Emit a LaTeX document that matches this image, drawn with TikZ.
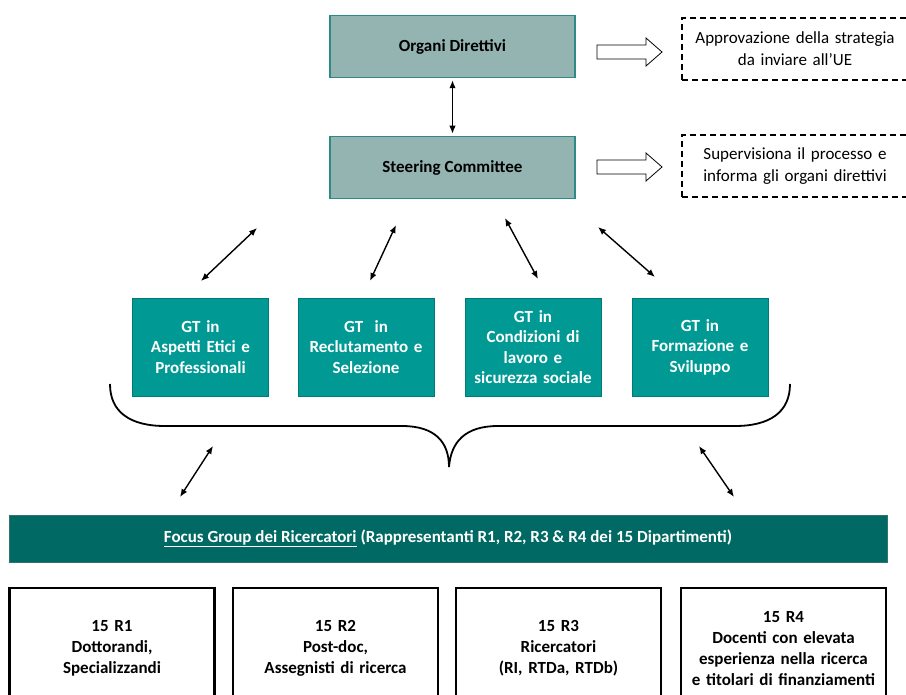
\documentclass[tikz,border=0pt]{standalone}
\usepackage{fontspec}
\setmainfont{Carlito}
\usepackage{xcolor}
\usetikzlibrary{positioning, arrows.meta}

\definecolor{topfill}{HTML}{94B4B2}
\definecolor{topline}{HTML}{2E8A86}
\definecolor{gtfill}{HTML}{009994}
\definecolor{focusfill}{HTML}{006963}

\tikzset{
    topbox/.style={draw=topline, line width=1.5pt, fill=topfill, minimum width=245pt, minimum height=62pt,
        font=\fontsize{17}{21}\selectfont\bfseries},
    notebox/.style={draw, dash pattern=on 6pt off 4pt, line width=1.3pt, minimum width=226pt, minimum height=62pt,
        text width=215pt, align=center, font=\fontsize{17}{22}\selectfont},
    gtbox/.style={draw=gtfill!80!black, line width=0.8pt, fill=gtfill, text=white, minimum width=136pt, minimum height=98pt,
        text width=128pt, align=center, font=\fontsize{17}{20.5}\selectfont\bfseries},
    rbox/.style={draw, line width=2.2pt, minimum width=205pt, minimum height=120pt, anchor=north,
        text width=196pt, align=center, font=\fontsize{17}{21}\selectfont\bfseries},
    hollow/.style={draw, line width=0.8pt, fill=white, line join=miter},
    link/.style={{Latex[length=8pt,width=6.5pt]}-{Latex[length=8pt,width=6.5pt]}, line width=1.4pt}
}

\begin{document}
\begin{tikzpicture}[x=1pt, y=-1pt]
    \clip (0,0) rectangle (906,695);

    % Governance
    \node[topbox] (organi) at (452.5,46.5) {Organi Direttivi};
    \node[topbox] (steering) at (452.5,167.5) {Steering Committee};
    \draw[link, shorten <=2pt, shorten >=2pt] (organi) -- (steering);

    % Notes on the right
    \foreach \y [count=\k] in {52,167} {
        \coordinate (hs\k) at (597,\y);
        \draw[hollow] (hs\k) ++(0,-7) -- ++(49,0) -- ++(0,-7) -- ++(16,14) -- ++(-16,14) -- ++(0,-7) -- ++(-49,0) -- cycle;
    }
    \node[notebox] (appr) at (795,49) {Approvazione della strategia\\da inviare all'UE};
    \node[notebox] (superv) at (795,166) {Supervisiona il processo e\\informa gli organi direttivi};

    % Working groups
    \node[gtbox] (gt1) at (200.5,347) {GT in\\Aspetti Etici e\\Professionali};
    \node[gtbox] (gt2) at (366,347) {GT\ \ in\\Reclutamento e\\Selezione};
    \node[gtbox] (gt3) at (533,347) {GT in\\Condizioni di\\lavoro e\\sicurezza sociale};
    \node[gtbox] (gt4) at (700,347) {GT in\\Formazione e\\Sviluppo};

    % Arrows steering <-> groups
    \coordinate (s1) at (257,228);
    \coordinate (g1) at (201,281);
    \coordinate (s2) at (396,225);
    \coordinate (g2) at (370,281);
    \coordinate (s3) at (505,218);
    \coordinate (g3) at (538,279);
    \coordinate (s4) at (598,227);
    \coordinate (g4) at (655,277);
    \foreach \i in {1,...,4}
        \draw[link] (s\i) -- (g\i);

    % Brace
    \draw[line width=1.8pt] (110,384) .. controls (110,412) and (130,426) .. (165,426)
        -- (402,426) .. controls (435,426) and (449,442) .. (449,467)
        .. controls (451,442) and (465,426) .. (498,426)
        -- (735,426) .. controls (770,426) and (790,412) .. (790,384);

    % Arrows brace <-> focus group
    \coordinate (b1) at (213,446);
    \coordinate (f1) at (180,497);
    \coordinate (b2) at (699,446);
    \coordinate (f2) at (734,497);
    \draw[link] (b1) -- (f1);
    \draw[link] (b2) -- (f2);

    % Focus group
    \node[fill=focusfill, draw=focusfill!60!gray, line width=0.8pt, minimum width=878pt, minimum height=47pt,
        text=white, font=\fontsize{17}{20}\selectfont\bfseries] (focus) at (448,538.5)
        {\underline{Focus Group dei Ricercatori} (Rappresentanti R1, R2, R3 \& R4 dei 15 Dipartimenti)};

    % Researcher categories
    \node[rbox] (r1) at (112,587) {15 R1\\Dottorandi,\\Specializzandi};
    \node[rbox] (r2) at (335.5,587) {15 R2\\Post-doc,\\Assegnisti di ricerca};
    \node[rbox] (r3) at (558.5,587) {15 R3\\Ricercatori\\(RI, RTDa, RTDb)};
    \node[rbox] (r4) at (783.5,587) {15 R4\\Docenti con elevata\\esperienza nella ricerca\\e titolari di finanziamenti};
\end{tikzpicture}
\end{document}
